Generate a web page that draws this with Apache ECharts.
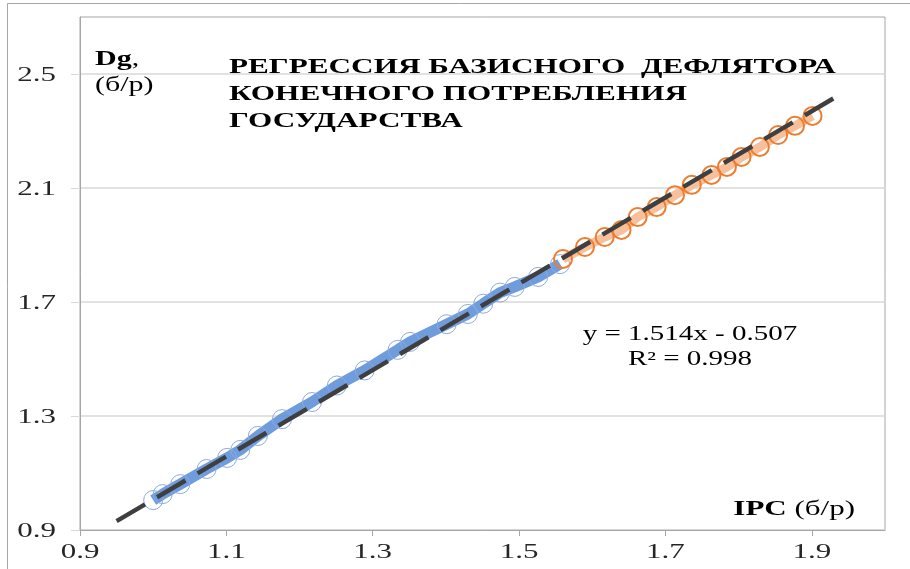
<!DOCTYPE html>
<html>
<head>
<meta charset="utf-8">
<script src="https://cdn.jsdelivr.net/npm/echarts@6/dist/echarts.min.js"></script>
<style>
  html, body { margin: 0; padding: 0; background: #fff; }
  #chart { width: 910px; height: 569px; }
</style>
</head>
<body>
<div id="chart"></div>
<script>
// фактические значения (IPC, Dg)
const actualIpc = [1.000, 1.013, 1.037, 1.073, 1.101, 1.119, 1.143, 1.176, 1.217, 1.251,
  1.289, 1.334, 1.351, 1.401, 1.430, 1.451, 1.474, 1.494, 1.526, 1.556]
const actualDg = [1.005, 1.026, 1.061, 1.114, 1.153, 1.181, 1.230, 1.289, 1.349, 1.407,
  1.460, 1.532, 1.560, 1.622, 1.658, 1.694, 1.733, 1.753, 1.788, 1.833]

// прогноз
const forecastIpc = [1.560, 1.590, 1.617, 1.640, 1.662, 1.688, 1.713, 1.736, 1.763, 1.784,
  1.804, 1.829, 1.854, 1.877, 1.901]
const forecastDg = [1.851, 1.893, 1.928, 1.953, 1.998, 2.033, 2.075, 2.111, 2.146, 2.174,
  2.209, 2.244, 2.286, 2.318, 2.353]

// линия тренда (концы)
const trendIpc = [0.95, 1.93]
const trendDg = [0.931, 2.415]

const xTicks = [0.9, 1.1, 1.3, 1.5, 1.7, 1.9]
const yTicks = [0.9, 1.3, 1.7, 2.1, 2.5]

const serif = 'Liberation Serif'
const zip = (xs, ys) => xs.map((x, i) => [x, ys[i]])

const chart = echarts.init(document.getElementById('chart'))

chart.setOption({
  animation: false,
  backgroundColor: '#fff',
  grid: {
    left: 80, top: 17, right: 25, bottom: 39,
    show: true,
    borderColor: '#a6a6a6',
    borderWidth: 1
  },
  xAxis: {
    type: 'value',
    min: 0.9,
    max: 2.0,
    axisLine: { show: true, lineStyle: { color: '#a6a6a6' } },
    axisTick: { show: true, customValues: xTicks, length: 6, lineStyle: { color: '#a6a6a6' } },
    axisLabel: { show: false, customValues: xTicks },
    splitLine: { show: false }
  },
  yAxis: {
    type: 'value',
    min: 0.9,
    max: 2.7,
    axisLine: { show: true, lineStyle: { color: '#a6a6a6' } },
    axisTick: { show: true, customValues: yTicks, length: 9, lineStyle: { color: '#d9d9d9' } },
    axisLabel: { show: false, customValues: yTicks },
    splitLine: { show: true, lineStyle: { color: '#d9d9d9', width: 1.5 } }
  },
  series: [
    {
      name: 'факт',
      type: 'line',
      data: zip(actualIpc, actualDg),
      lineStyle: { color: '#5f91d8', width: 11, opacity: 0.9 },
      symbol: 'circle',
      symbolSize: 19,
      itemStyle: { color: 'rgba(255,255,255,0)', borderColor: '#8eaade', borderWidth: 1 },
      z: 2
    },
    {
      name: 'прогноз',
      type: 'line',
      data: zip(forecastIpc, forecastDg),
      lineStyle: { color: '#f7c09a', width: 9 },
      symbol: 'circle',
      symbolSize: 18,
      itemStyle: { color: 'rgba(255,255,255,0)', borderColor: '#ed7d31', borderWidth: 2 },
      z: 3
    },
    {
      name: 'тренд',
      type: 'line',
      data: zip(trendIpc, trendDg),
      symbol: 'none',
      lineStyle: { color: '#3f3f3f', width: 4.5, type: [33, 14] },
      z: 4
    }
  ]
})

// подписи осей — текст растянут по горизонтали, как на исходной картинке
const labelFont = `20px "${serif}"`
const labels = []
xTicks.forEach(v => {
  labels.push({
    type: 'text',
    x: chart.convertToPixel({ xAxisIndex: 0 }, v),
    y: 553,
    scaleX: 1.55,
    style: { text: v.toFixed(1), font: labelFont, fill: '#262626', align: 'center', verticalAlign: 'middle' }
  })
})
yTicks.forEach(v => {
  labels.push({
    type: 'text',
    x: 56,
    y: chart.convertToPixel({ yAxisIndex: 0 }, v) + 2,
    scaleX: 1.55,
    style: { text: v.toFixed(1), font: labelFont, fill: '#262626', align: 'right', verticalAlign: 'middle' }
  })
})

chart.setOption({
  graphic: [
    {
      type: 'rect',
      silent: true,
      shape: { x: 7.5, y: 3.5, width: 950, height: 620 },
      style: { fill: 'none', stroke: '#a6a6a6', lineWidth: 1 }
    },
    ...labels,
    {
      type: 'text',
      x: 95, y: 47,
      scaleX: 1.5,
      style: { text: '{b|Dg},\n(б/р)', font: `20px "${serif}"`, fill: '#000', lineHeight: 26,
        rich: { b: { fontWeight: 'bold', fontFamily: serif, fontSize: 20 } } }
    },
    {
      type: 'text',
      x: 229, y: 54,
      scaleX: 1.56,
      style: {
        text: 'РЕГРЕССИЯ БАЗИСНОГО  ДЕФЛЯТОРА\nКОНЕЧНОГО ПОТРЕБЛЕНИЯ\nГОСУДАРСТВА',
        font: `bold 20px "${serif}"`, fill: '#000', lineHeight: 27
      }
    },
    {
      type: 'text',
      x: 690, y: 322,
      scaleX: 1.45,
      style: {
        text: 'y = 1.514x - 0.507\nR² = 0.998',
        font: `20px "${serif}"`, fill: '#000', lineHeight: 25, align: 'center'
      }
    },
    {
      type: 'text',
      x: 855, y: 500,
      scaleX: 1.55,
      style: { text: '{b|IPC} (б/р)', font: `20px "${serif}"`, fill: '#000', align: 'right',
        rich: { b: { fontWeight: 'bold', fontFamily: serif, fontSize: 20 } } }
    }
  ]
})
</script>
</body>
</html>
